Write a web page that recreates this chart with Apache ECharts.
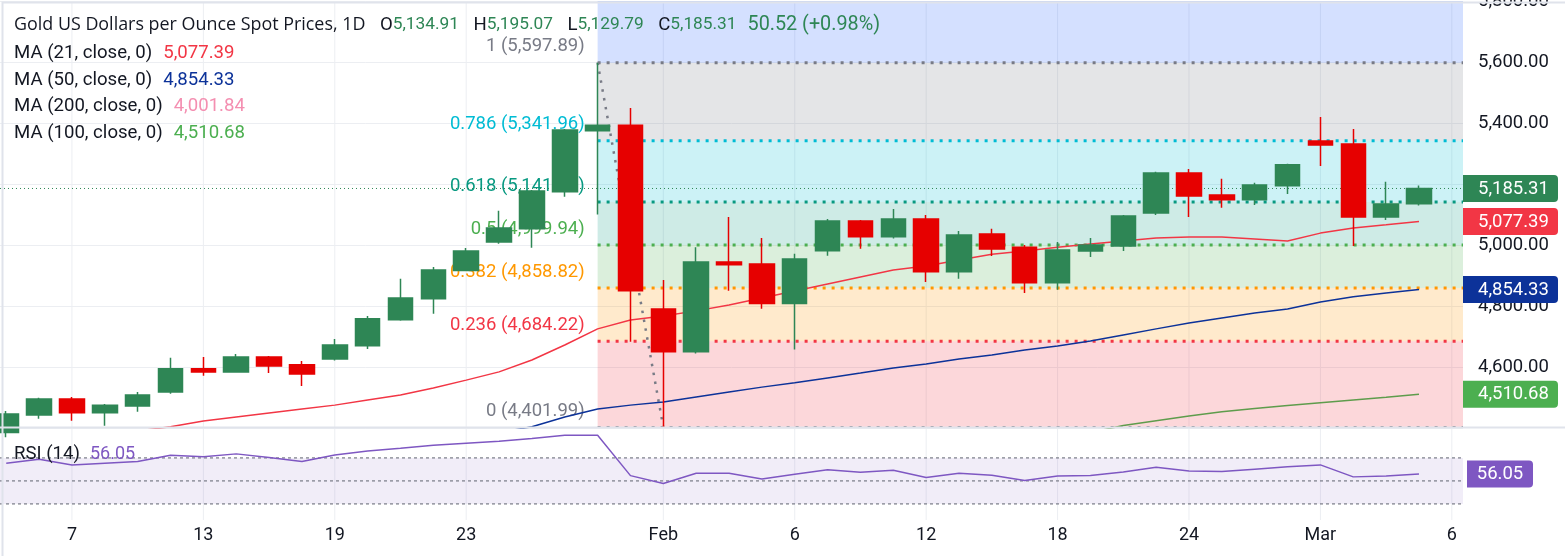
<!DOCTYPE html>
<html><head><meta charset="utf-8">
<script src="https://cdn.jsdelivr.net/npm/echarts@6/dist/echarts.min.js"></script>
<style>html,body{margin:0;padding:0;background:#fff}#c{width:1565px;height:556px}</style>
</head><body><div id="c"></div>
<script>
// ---------- data ----------
const dates = ['Jan 5','Jan 6','Jan 7','Jan 8','Jan 9','Jan 12','Jan 13','Jan 14','Jan 15','Jan 16',
  'Jan 19','Jan 20','Jan 21','Jan 22','Jan 23','Jan 26','Jan 27','Jan 28','Jan 29','Jan 30',
  'Feb 2','Feb 3','Feb 4','Feb 5','Feb 6','Feb 9','Feb 10','Feb 11','Feb 12','Feb 13',
  'Feb 16','Feb 17','Feb 18','Feb 19','Feb 20','Feb 23','Feb 24','Feb 25','Feb 26','Feb 27',
  'Mar 2','Mar 3','Mar 4','Mar 5'];
const opens  = [4385,4443,4495,4450,4472,4518,4594,4584,4633,4607, 4626,4670,4755,4824,4916,5010,5053,5175,5375,5393,
  4790,4650,4944,4938,4808,4981,5079,5027,5085,4912, 5036,4993,4876,4980,4997,5105,5236,5164,5148,5194, 5341,5331,5092,5134.91];
const closes = [4446,4495,4450,4475,4508,4594,4584,4633,4603,4577, 4672,4758,4826,4918,4980,5056,5177,5377,5393,4850,
  4650,4944,4935,4808,4954,5079,5027,5085,4912,5033, 4987,4876,4984,5000,5095,5236,5161,5148,5197,5263, 5328,5092,5134.79,5185.31];
const lows   = [4370,4430,4424,4407,4453,4512,4571,4582,4580,4538, 4621,4659,4752,4775,4914,5004,4991,5158,5100,4683,
  4401.99,4644,4850,4791,4657,4965,4988,5021,4879,4889, 4964,4843,4853,4961,4980,5098,5092,5122,5131,5167, 5259,4997,5082,5129.79];
const highs  = [4456,4499,4502,4479,4518,4630,4633,4643,4636,4620, 4692,4767,4889,4928,4990,5112,5180,5380,5597.89,5449,
  4885,4993,5092,5023,4971,5085,5082,5118,5098,5046, 5053,5000,5010,5023,5098,5240,5249,5217,5204,5266, 5420,5380,5207,5195.07];
const ma21 = [4340,4352,4364,4376,4390,4404,4423,4436,4449,4462, 4475,4492,4508,4531,4557,4584,4623,4672,4725,4754,
  4767,4784,4803,4826,4849,4872,4895,4918,4931,4951, 4970,4980,4993,5003,5013,5023,5026,5026,5020,5013, 5039,5056,5066,5077.39];
const ma50 = [null,null,null,null,null,null,null,null,null,null, null,null,null,null,null,4385,4404,4436,4462,4475,
  4485,4502,4518,4534,4548,4564,4580,4597,4610,4626, 4639,4656,4669,4685,4705,4725,4744,4761,4777,4790, 4813,4830,4843,4854.33];
const ma100 = [null,null,null,null,null,null,null,null,null,null, null,null,null,null,null,null,null,null,null,null,
  null,null,null,null,null,null,null,null,null,null, null,null,null,4385,4408,4424,4439,4453,4464,4474, 4483,4492,4501,4510.68];
const ma200Last = 4001.84;
const rsi14 = [65.4,68.9,63.9,65.4,66.8,72.3,71.1,73.5,70.3,66.8, 72.6,76.1,78.4,81.0,82.8,84.5,86.8,89.7,89.7,54.6,
  47.7,56.7,56.7,51.7,55.8,59.6,57.5,59.3,52.9,56.7, 54.9,50.3,54.3,54.6,57.8,61.9,58.7,58.1,60.2,62.2, 63.9,53.5,54.3,56.05];
const xTickIdx = [2,6,10,14,20,24,28,32,36,40,44];
const xTickLabels = ['7','13','19','23','Feb','6','12','18','24','Mar','6'];
const fibLevels = ['0','0.236','0.382','0.5','0.618','0.786','1'];
const fibPrices = [4401.99,4684.22,4858.82,4999.94,5141.06,5341.96,5597.89];
const fibStartIdx = 18;
const trendPoints = [[18,5597.89],[20,4401.99]];
const rsiLevels = [70,50,30];

// ---------- styles ----------
const FONT = 'Roboto, "Noto Sans", sans-serif';
const UP = '#2e8655', DOWN = '#e60000';
const fibColors = ['#787b86','#f23645','#ff9800','#4caf50','#089981','#00bcd4','#787b86'];
const fibFills = ['rgba(242,54,69,0.2)','rgba(255,152,0,0.2)','rgba(76,175,80,0.2)','rgba(8,153,129,0.2)',
  'rgba(0,188,212,0.2)','rgba(120,123,134,0.2)','rgba(41,98,255,0.2)'];
const X_MIN = -0.19, X_MAX = 44.34, Y_MIN = 4400, Y_MAX = 5800, R_MIN = 16, R_MAX = 96;
const GRIDC = '#eceef2';
const fmt = v => v.toLocaleString('en-US',{minimumFractionDigits:2, maximumFractionDigits:2});

const last = dates.length - 1;
const chg = closes[last] - closes[last-1];
const pct = chg / closes[last-1] * 100;
const badgeValues = [closes[last], ma21[last], ma50[last], ma100[last]];
const badgeColors = [UP, '#f23645', '#0c3299', '#4caf50'];

const chart = echarts.init(document.getElementById('c'));
const lineData = arr => arr.map((v,i)=>[i, v]);

const TS = 18.6, NS = 17.3;
const tok = (color, size, fam) => ({color, fontSize:size, fontFamily:fam || FONT, fontWeight:'normal', lineHeight:20});
const rich = {
  h:tok('#131722', 17.9, '"Open Sans", Roboto, sans-serif'),
  k:tok('#131722', TS), g:tok(UP, NS), c:tok(UP, 19.8),
  r:tok('#f23645', TS), b:tok('#0c3299', TS), p:tok('#f48fb1', TS), m:tok('#4caf50', TS), v:tok('#7e57c2', 18),
  s:{width:14.5, fontSize:10}, t:{width:11, fontSize:10}, q:{width:10, fontSize:10}
};
const header = `{h|Gold US Dollars per Ounce Spot Prices, 1D}{s| }{k|O}{g|${fmt(opens[last])}}{s| }{k|H}{g|${fmt(highs[last])}}{s| }{k|L}{g|${fmt(lows[last])}}{s| }{k|C}{g|${fmt(closes[last])}}{t| }{c|${fmt(chg)} (+${pct.toFixed(2)}%)}`;
const mkTitle = (text, top) => ({left:14, top, padding:0, text,
  textStyle:{rich, fontSize:TS, fontWeight:'normal', fontFamily:FONT, lineHeight:20}});

const option = {
  animation:false,
  backgroundColor:'#ffffff',
  textStyle:{fontFamily:FONT},
  title:[
    mkTitle(header, 15),
    mkTitle(`{k|MA (21, close, 0)}{t| }{r|${fmt(ma21[last])}}`, 43),
    mkTitle(`{k|MA (50, close, 0)}{t| }{b|${fmt(ma50[last])}}`, 70),
    mkTitle(`{k|MA (200, close, 0)}{t| }{p|${fmt(ma200Last)}}`, 96),
    mkTitle(`{k|MA (100, close, 0)}{t| }{m|${fmt(ma100[last])}}`, 123),
    mkTitle(`{k|RSI (14)}{q| }{v|${fmt(rsi14[last])}}`, 444)
  ],
  grid:[
    {left:0, right:102, top:1, height:427, outerBoundsMode:'none', containLabel:false},
    {left:0, right:102, top:428, height:92, outerBoundsMode:'none', containLabel:false}
  ],
  xAxis:[
    {type:'value', gridIndex:0, min:X_MIN, max:X_MAX, show:false},
    {type:'value', gridIndex:1, min:X_MIN, max:X_MAX,
      axisLine:{show:false}, axisTick:{show:false}, splitLine:{show:false},
      axisLabel:{customValues:xTickIdx, margin:6, color:'#131722', fontSize:18, fontFamily:FONT,
        formatter:v => xTickLabels[xTickIdx.indexOf(Math.round(v))] || ''}}
  ],
  yAxis:[
    {type:'value', gridIndex:0, position:'right', min:Y_MIN, max:Y_MAX, interval:200,
      axisLine:{show:false}, axisTick:{show:false},
      splitLine:{show:true, lineStyle:{color:GRIDC, width:1}},
      axisLabel:{margin:15, color:'#131722', fontSize:18.5, fontFamily:FONT, showMinLabel:false, showMaxLabel:true,
        hideOverlap:false, formatter:v => fmt(v)}},
    {type:'value', gridIndex:1, position:'right', min:R_MIN, max:R_MAX,
      axisLine:{show:false}, axisTick:{show:false}, splitLine:{show:false}, axisLabel:{show:false}}
  ],
  series:[
    {type:'custom', xAxisIndex:0, yAxisIndex:0, z:0, silent:true, clip:true,
      data:xTickIdx.map(i=>[i, Y_MIN]),
      renderItem(params, api){
        const a = api.coord([api.value(0), Y_MIN]), b = api.coord([api.value(0), Y_MAX]);
        return {type:'line', shape:{x1:a[0],y1:a[1],x2:b[0],y2:b[1]}, style:{stroke:GRIDC, lineWidth:1}};
      }},
    {type:'custom', xAxisIndex:1, yAxisIndex:1, z:0, silent:true, clip:true,
      data:xTickIdx.map(i=>[i, R_MIN]),
      renderItem(params, api){
        const a = api.coord([api.value(0), R_MIN]), b = api.coord([api.value(0), R_MAX]);
        return {type:'line', shape:{x1:a[0],y1:a[1],x2:b[0],y2:b[1]}, style:{stroke:GRIDC, lineWidth:1}};
      }},
    {type:'custom', xAxisIndex:0, yAxisIndex:0, z:1, silent:true, clip:true,
      data:fibPrices.map((p,j)=>[fibStartIdx, p, j < fibPrices.length-1 ? fibPrices[j+1] : Y_MAX]),
      renderItem(params, api){
        const a = api.coord([api.value(0), api.value(1)]);
        const b = api.coord([X_MAX, api.value(2)]);
        return {type:'rect', shape:{x:a[0], y:b[1], width:b[0]-a[0], height:a[1]-b[1]},
          style:{fill:fibFills[params.dataIndex]}};
      }},
    {type:'custom', xAxisIndex:0, yAxisIndex:0, z:2, silent:true, clip:true,
      data:fibPrices.map(p=>[fibStartIdx, p]),
      renderItem(params, api){
        const j = params.dataIndex;
        const a = api.coord([api.value(0), api.value(1)]);
        const b = api.coord([X_MAX, api.value(1)]);
        return {type:'group', children:[
          {type:'line', shape:{x1:a[0],y1:a[1],x2:b[0],y2:b[1]},
            style:{stroke:fibColors[j], lineWidth:3, lineDash:[3,6]}},
          {type:'text', x:a[0]-13, y:a[1]-16,
            style:{text:`${fibLevels[j]} (${fmt(fibPrices[j])})`, fill:fibColors[j],
              font:`18.5px ${FONT}`, align:'right', verticalAlign:'middle'}}
        ]};
      }},
    {type:'custom', xAxisIndex:0, yAxisIndex:0, z:2, silent:true, clip:true,
      data:[[X_MIN, closes[last]]],
      renderItem(params, api){
        const a = api.coord([X_MIN, api.value(1)]), b = api.coord([X_MAX, api.value(1)]);
        return {type:'line', shape:{x1:a[0],y1:a[1],x2:b[0],y2:b[1]},
          style:{stroke:UP, lineWidth:1, lineDash:[1,3]}};
      }},
    {type:'line', xAxisIndex:0, yAxisIndex:0, z:3, silent:true, symbol:'none',
      data:trendPoints, lineStyle:{color:'#787b86', width:2.5, type:[2.5,6.5]}},
    {type:'line', name:'MA21', xAxisIndex:0, yAxisIndex:0, z:4, symbol:'none', silent:true,
      data:lineData(ma21), lineStyle:{color:'#f23645', width:1.5}},
    {type:'line', name:'MA50', xAxisIndex:0, yAxisIndex:0, z:4, symbol:'none', silent:true,
      data:lineData(ma50), lineStyle:{color:'#0c3299', width:1.5}},
    {type:'line', name:'MA100', xAxisIndex:0, yAxisIndex:0, z:4, symbol:'none', silent:true,
      data:lineData(ma100), lineStyle:{color:'#5e9c4c', width:1.5}},
    {type:'candlestick', xAxisIndex:0, yAxisIndex:0, z:5, barWidth:25, silent:true,
      data:dates.map((d,i)=>[i, opens[i], closes[i], lows[i], highs[i]]),
      itemStyle:{color:UP, color0:DOWN, borderColor:UP, borderColor0:DOWN, borderWidth:1.5}},
    {type:'custom', xAxisIndex:0, yAxisIndex:0, z:10, silent:true, clip:false,
      data:badgeValues.map(v=>[X_MAX, v]),
      renderItem(params, api){
        const j = params.dataIndex;
        const p = api.coord([X_MAX, api.value(1)]);
        return {type:'group', children:[
          {type:'rect', shape:{x:p[0], y:p[1]-13.5, width:95, height:27, r:[0,4,4,0]}, style:{fill:badgeColors[j]}},
          {type:'text', x:p[0]+15, y:p[1]+0.5, style:{text:fmt(badgeValues[j]), fill:'#ffffff',
            font:`18.5px ${FONT}`, align:'left', verticalAlign:'middle'}}
        ]};
      }},
    {type:'custom', xAxisIndex:1, yAxisIndex:1, z:1, silent:true, clip:true,
      data:[[X_MIN, rsiLevels[2], rsiLevels[0]]],
      renderItem(params, api){
        const a = api.coord([X_MIN, api.value(1)]), b = api.coord([X_MAX, api.value(2)]);
        return {type:'rect', shape:{x:a[0], y:b[1], width:b[0]-a[0], height:a[1]-b[1]},
          style:{fill:'rgba(126,87,194,0.11)'}};
      }},
    {type:'custom', xAxisIndex:1, yAxisIndex:1, z:2, silent:true, clip:true,
      data:rsiLevels.map(v=>[X_MIN, v]),
      renderItem(params, api){
        const a = api.coord([X_MIN, api.value(1)]), b = api.coord([X_MAX, api.value(1)]);
        return {type:'line', shape:{x1:a[0],y1:a[1],x2:b[0],y2:b[1]},
          style:{stroke:'#787b86', lineWidth:1.2, lineDash:[3,3]}};
      }},
    {type:'line', name:'RSI', xAxisIndex:1, yAxisIndex:1, z:4, symbol:'none', silent:true,
      data:lineData(rsi14), lineStyle:{color:'#7e57c2', width:1.5}},
    {type:'custom', xAxisIndex:1, yAxisIndex:1, z:10, silent:true, clip:false,
      data:[[X_MAX, rsi14[last]]],
      renderItem(params, api){
        const p = api.coord([X_MAX, api.value(1)]);
        return {type:'group', children:[
          {type:'rect', shape:{x:p[0]+4, y:p[1]-13.5, width:66, height:27, r:[0,4,4,0]}, style:{fill:'#7e57c2'}},
          {type:'text', x:p[0]+37, y:p[1]+0.5, style:{text:fmt(rsi14[last]), fill:'#ffffff',
            font:`18.5px ${FONT}`, align:'center', verticalAlign:'middle'}}
        ]};
      }}
  ],
  graphic:[
    {type:'rect', left:0, top:426.5, shape:{width:1565, height:2}, style:{fill:'#e0e3eb'}, silent:true, z:20},
    {type:'rect', left:0, top:0, shape:{width:1564, height:555}, style:{fill:null, stroke:'#e0e3eb', lineWidth:2}, silent:true, z:20}
  ]
};
chart.setOption(option);
</script>
</body></html>
